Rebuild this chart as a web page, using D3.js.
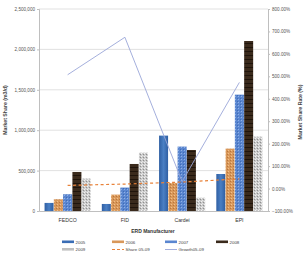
<!DOCTYPE html>
<html><head><meta charset="utf-8">
<script src="https://cdn.jsdelivr.net/npm/d3@7"></script>
<style>html,body{margin:0;padding:0;background:#fff;}svg{display:block;font-family:"Liberation Sans",Arial,sans-serif;}</style>
</head><body><svg id="c" width="307" height="254"></svg>
<script>
const categories = ["FEDCO", "FID", "Cardei", "EPI"];
const seriesNames = ["2005", "2006", "2007", "2008", "2009"];
const v2005 = [100000, 87000, 933000, 458000];
const v2006 = [145000, 203000, 347000, 772000];
const v2007 = [207000, 290000, 797000, 1440000];
const v2008 = [483000, 582000, 755000, 2104000];
const v2009 = [401000, 723000, 165000, 920000];
const share0509 = [0.14, 0.20, 0.29, 0.43];
const growth0509 = [5.07, 6.74, 0.31, 4.73];
const leftTicks = [0, 500000, 1000000, 1500000, 2000000, 2500000];
const rightTicks = [-1, 0, 1, 2, 3, 4, 5, 6, 7, 8];

const series = [v2005, v2006, v2007, v2008, v2009];
const svg = d3.select("#c");
const m = {l: 39, r: 268, t: 9, b: 211};

// patterns
const defs = svg.append("defs");
const g05 = defs.append("linearGradient").attr("id","g05").attr("x1",0).attr("x2",1);
g05.append("stop").attr("offset","0").attr("stop-color","#2f5fa3");
g05.append("stop").attr("offset","0.5").attr("stop-color","#4a7fc4");
g05.append("stop").attr("offset","1").attr("stop-color","#2f5fa3");
const p06 = defs.append("pattern").attr("id","p06").attr("width",3).attr("height",3).attr("patternUnits","userSpaceOnUse");
p06.append("rect").attr("width",3).attr("height",3).attr("fill","#d9985a");
p06.append("rect").attr("x",0).attr("y",0).attr("width",1).attr("height",1).attr("fill","#f0c08a");
p06.append("rect").attr("x",2).attr("y",1).attr("width",1).attr("height",1).attr("fill","#b8763e");
const p07 = defs.append("pattern").attr("id","p07").attr("width",3).attr("height",3).attr("patternUnits","userSpaceOnUse");
p07.append("rect").attr("width",3).attr("height",3).attr("fill","#5a86d0");
p07.append("rect").attr("x",1).attr("y",0).attr("width",1).attr("height",1).attr("fill","#8fb0e6");
p07.append("rect").attr("x",0).attr("y",2).attr("width",1).attr("height",1).attr("fill","#3f6bb5");
const p08 = defs.append("pattern").attr("id","p08").attr("width",4).attr("height",4).attr("patternUnits","userSpaceOnUse");
p08.append("rect").attr("width",4).attr("height",4).attr("fill","#3a2a1c");
p08.append("rect").attr("y",3).attr("width",4).attr("height",1).attr("fill","#1f140b");
const p09 = defs.append("pattern").attr("id","p09").attr("width",3).attr("height",3).attr("patternUnits","userSpaceOnUse");
p09.append("rect").attr("width",3).attr("height",3).attr("fill","#c9c9c9");
p09.append("rect").attr("x",0).attr("y",0).attr("width",1).attr("height",1).attr("fill","#f2f2f2");
p09.append("rect").attr("x",2).attr("y",1).attr("width",1).attr("height",1).attr("fill","#8f8f8f");
p09.append("rect").attr("x",1).attr("y",2).attr("width",1).attr("height",1).attr("fill","#e6e6e6");
const fills = ["url(#g05)","url(#p06)","url(#p07)","url(#p08)","url(#p09)"];
const legendColors = ["#3a6db5","#d9985a","#5a86d0","#3a2a1c","#c0c0c0"];

const x = d3.scaleBand().domain(categories).range([m.l, m.r]);
const xs = d3.scaleBand().domain(seriesNames).range([0, x.bandwidth()]).paddingOuter(0.6).paddingInner(0.03);
const y = d3.scaleLinear().domain([0, 2500000]).range([m.b, m.t]);
const y2 = d3.scaleLinear().domain([-1, 8]).range([m.b, m.t]);

// grid
svg.append("g").selectAll("line").data(leftTicks.slice(1)).join("line")
  .attr("x1", m.l).attr("x2", m.r).attr("y1", d=>y(d)).attr("y2", d=>y(d))
  .attr("stroke","#d9d9d9").attr("stroke-width",0.8);

// left axis
const la = svg.append("g").attr("transform",`translate(${m.l},0)`)
  .call(d3.axisLeft(y).tickValues(leftTicks).tickFormat(d3.format(",")).tickSize(2).tickPadding(2));
la.select(".domain").attr("stroke","#bfbfbf");
la.selectAll(".tick line").attr("stroke","#bfbfbf");
la.selectAll("text").attr("font-size",4.6).attr("fill","#555").attr("font-family","Liberation Sans, Arial, sans-serif");

// right axis
const ra = svg.append("g").attr("transform",`translate(${m.r},0)`)
  .call(d3.axisRight(y2).tickValues(rightTicks).tickFormat(d=>d3.format(".2f")(d*100)+"%").tickSize(2).tickPadding(2));
ra.select(".domain").attr("stroke","#bfbfbf");
ra.selectAll(".tick line").attr("stroke","#bfbfbf");
ra.selectAll("text").attr("font-size",4.6).attr("fill","#555").attr("font-family","Liberation Sans, Arial, sans-serif");

// bottom axis
const ba = svg.append("g").attr("transform",`translate(0,${m.b})`)
  .call(d3.axisBottom(x).tickSize(0).tickPadding(7));
ba.select(".domain").attr("stroke","#bfbfbf");
ba.selectAll("text").attr("font-size",5.2).attr("fill","#333").attr("font-family","Liberation Sans, Arial, sans-serif");

// bars
series.forEach((vals, si) => {
  svg.append("g").selectAll("rect").data(vals).join("rect")
    .attr("x", (d,i)=>x(categories[i]) + xs(seriesNames[si]))
    .attr("width", xs.bandwidth())
    .attr("y", d=>y(d)).attr("height", d=>y(0)-y(d))
    .attr("fill", fills[si]);
});

// lines
const cx = (i)=>x(categories[i]) + x.bandwidth()/2;
svg.append("path").datum(share0509)
  .attr("d", d3.line().x((d,i)=>cx(i)).y(d=>y2(d)))
  .attr("fill","none").attr("stroke","#e8823a").attr("stroke-width",1.2).attr("stroke-dasharray","3,2.5");
svg.append("path").datum(growth0509)
  .attr("d", d3.line().x((d,i)=>cx(i)).y(d=>y2(d)))
  .attr("fill","none").attr("stroke","#9aa6d8").attr("stroke-width",0.9);

// axis titles
svg.append("text").attr("transform","translate(7,110) rotate(-90)").attr("text-anchor","middle")
  .attr("font-size",5.2).attr("font-weight","bold").attr("fill","#444").text("Market Share (m3/d)");
svg.append("text").attr("transform","translate(302,112) rotate(-90)").attr("text-anchor","middle")
  .attr("font-size",5.2).attr("font-weight","bold").attr("fill","#444").text("Market Share Rate (%)");
svg.append("text").attr("x",153).attr("y",233).attr("text-anchor","middle")
  .attr("font-size",5).attr("font-weight","bold").attr("fill","#333").text("ERD Manufacturer");

// legend
const legendItems = [
  {name:"2005", type:"bar", c:legendColors[0]},
  {name:"2006", type:"bar", c:legendColors[1]},
  {name:"2007", type:"bar", c:legendColors[2]},
  {name:"2008", type:"bar", c:legendColors[3]},
  {name:"2009", type:"bar", c:legendColors[4]},
  {name:"Share 05-09", type:"dash", c:"#e8823a"},
  {name:"Growth05-09", type:"line", c:"#9aa6d8"}
];
const lx = [62, 112, 165, 216];
const ly = [242, 249.5];
legendItems.forEach((it, i) => {
  const gx = lx[i%4], gy = ly[Math.floor(i/4)];
  const g = svg.append("g");
  if (it.type === "bar") {
    g.append("rect").attr("x",gx).attr("y",gy-1.5).attr("width",12).attr("height",2.6).attr("fill",it.c);
  } else {
    g.append("line").attr("x1",gx).attr("x2",gx+12).attr("y1",gy).attr("y2",gy)
      .attr("stroke",it.c).attr("stroke-width",it.type==="dash"?1.1:0.9)
      .attr("stroke-dasharray",it.type==="dash"?"3,2":null);
  }
  g.append("text").attr("x",gx+13.5).attr("y",gy+1.6).attr("font-size",4.4).attr("fill","#444").text(it.name);
});
</script>
</body></html>
